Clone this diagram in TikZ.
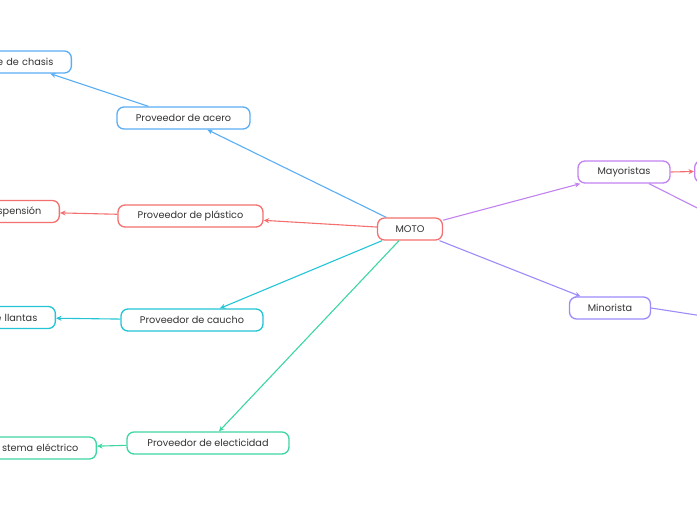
\documentclass[tikz,border=0pt]{standalone}
\usepackage{fontspec}
\setmainfont{Poppins}
\usetikzlibrary{arrows.meta, positioning}
\definecolor{cBlue}{RGB}{90,174,245}
\definecolor{cRed}{RGB}{244,111,111}
\definecolor{cCyan}{RGB}{34,196,214}
\definecolor{cGreen}{RGB}{61,214,163}
\definecolor{cPurple}{RGB}{194,131,240}
\definecolor{cViolet}{RGB}{156,140,250}
\definecolor{cText}{RGB}{51,51,51}
\tikzset{
	topic/.style ={rectangle, rounded corners=7pt, draw, line width=1.3pt, fill=white, text=cText, minimum height=22pt, inner xsep=18pt, inner ysep=0pt, font=\fontsize{9.7}{11}\selectfont},
	leaf/.style  ={topic, anchor=east, align=right},
	link/.style  ={line width=1.1pt},
	linkarr/.style={link, -{Stealth[length=5.5pt, width=5pt]}},
}
\begin{document}
\begin{tikzpicture}[x=1pt, y=-1pt]
	\useasboundingbox (0,0) rectangle (697,520);
	\clip (0,0) rectangle (697,520);
	% central node
	\node[topic, draw=cRed] (moto) at (410,229) {MOTO};
	% suppliers
	\node[topic, draw=cBlue, minimum width=133pt] (acero) at (183.5,118) {Proveedor de acero};
	\node[topic, draw=cRed, minimum width=145pt] (plastico) at (190.5,216) {Proveedor de plástico};
	\node[topic, draw=cCyan, minimum width=142pt] (caucho) at (192,320) {Proveedor de caucho};
	\node[topic, draw=cGreen, minimum width=162pt] (elec) at (208,443) {Proveedor de electicidad};
	% parts, cut by the left edge
	\node[leaf, draw=cBlue, text width=76pt] (chasis) at (72,62) {e de chasis};
	\node[leaf, draw=cRed, text width=80pt] (susp) at (60,211.5) {spensión};
	\node[leaf, draw=cCyan, text width=76pt] (llantas) at (56,317.5) {e llantas};
	\node[leaf, draw=cGreen, text width=92pt] (sistema) at (97,448) {stema eléctrico};
	% sellers
	\node[topic, draw=cPurple, minimum width=92pt] (mayor) at (624,172) {Mayoristas};
	\node[topic, draw=cViolet, minimum width=81pt] (minor) at (610,308) {Minorista};
	\node[topic, draw=cPurple, anchor=west, minimum width=60pt] (cliente) at (694,171.5) {};
	\coordinate (mayorout) at (735,227);
	\coordinate (minorout) at (735,321);
	% connectors
	\draw[linkarr, cBlue] (moto) -- (acero);
	\draw[linkarr, cBlue] (acero) -- (chasis);
	\draw[linkarr, cRed] (moto) -- (plastico);
	\draw[linkarr, cRed] (plastico) -- (susp);
	\draw[linkarr, cCyan] (moto) -- (caucho);
	\draw[linkarr, cCyan] (caucho) -- (llantas);
	\draw[linkarr, cGreen] (moto) -- (elec);
	\draw[linkarr, cGreen] (elec) -- (sistema);
	\draw[linkarr, cPurple] (moto) -- (mayor);
	\draw[linkarr, cViolet] (moto) -- (minor);
	\draw[linkarr, cRed] (mayor.east) -- (cliente.west);
	\draw[link, cPurple] (mayor.-25) -- (mayorout);
	\draw[link, cViolet] (minor.east) -- (minorout);
\end{tikzpicture}
\end{document}
